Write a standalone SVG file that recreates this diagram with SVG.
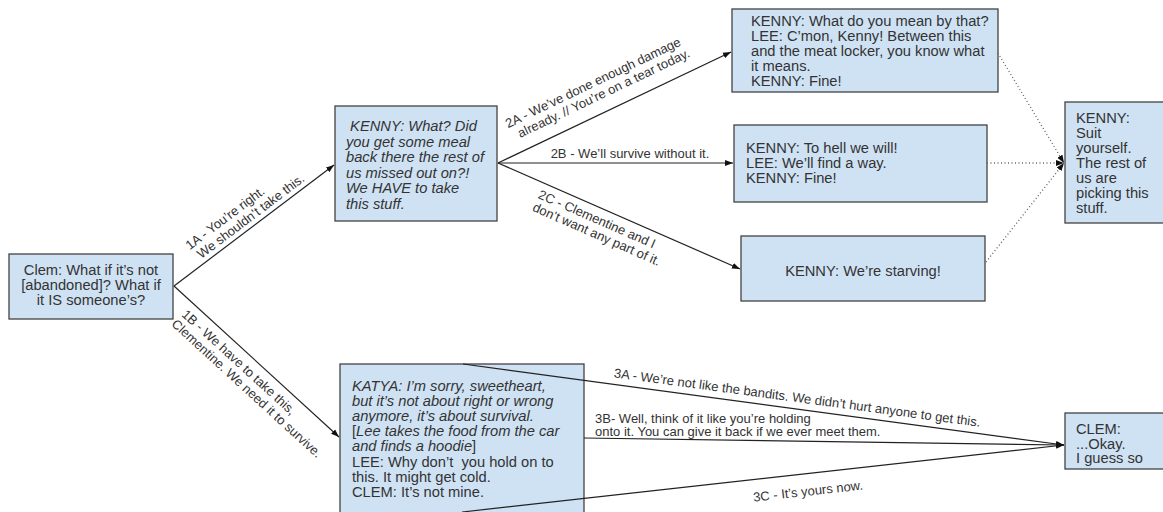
<svg xmlns="http://www.w3.org/2000/svg" width="1163" height="512" viewBox="0 0 1163 512">
<style>
.box{fill:#cfe2f3;stroke:#434343;stroke-width:1.3}
.t{font-family:"Liberation Sans",Arial,sans-serif;font-size:14.7px;fill:#333}
.l{font-family:"Liberation Sans",Arial,sans-serif;font-size:13px;fill:#333}
.i{font-style:italic}
.c{stroke:#222;stroke-width:1.2;fill:none;marker-end:url(#ah)}
.d{stroke:#666;stroke-width:1.3;fill:none;stroke-dasharray:1 2.5;marker-end:url(#ah)}
</style>
<defs>
<marker id="ah" markerUnits="userSpaceOnUse" markerWidth="9" markerHeight="7" refX="8" refY="3.5" orient="auto"><path d="M0,0.5 L8,3.5 L0,6.5 z" fill="#111"/></marker>
</defs>
<rect width="1163" height="512" fill="#fff"/>

<g id="node-clem-start">
<rect class="box" x="9" y="254" width="164" height="65"/>
<text class="t" text-anchor="middle"><tspan x="91" y="275">Clem: What if it’s not</tspan><tspan x="91" y="290">[abandoned]? What if</tspan><tspan x="91" y="305">it IS someone’s?</tspan></text>
</g>

<g id="node-kenny-what">
<rect class="box" x="335" y="106" width="162" height="115"/>
<text class="t i" xml:space="preserve"><tspan x="346" y="131"> KENNY: What? Did</tspan><tspan x="346" y="146.5">you get some meal</tspan><tspan x="346" y="162">back there the rest of</tspan><tspan x="346" y="177.5">us missed out on?!</tspan><tspan x="346" y="193">We HAVE to take</tspan><tspan x="346" y="208.5">this stuff.</tspan></text>
</g>

<g id="node-kenny-mean">
<rect class="box" x="732" y="9" width="266" height="83"/>
<text class="t"><tspan x="751" y="26">KENNY: What do you mean by that?</tspan><tspan x="751" y="41">LEE: C’mon, Kenny! Between this</tspan><tspan x="751" y="56">and the meat locker, you know what</tspan><tspan x="751" y="71">it means.</tspan><tspan x="751" y="86">KENNY: Fine!</tspan></text>
</g>

<g id="node-kenny-hell">
<rect class="box" x="734" y="125" width="253" height="77"/>
<text class="t"><tspan x="746" y="153">KENNY: To hell we will!</tspan><tspan x="746" y="168">LEE: We’ll find a way.</tspan><tspan x="746" y="183">KENNY: Fine!</tspan></text>
</g>

<g id="node-kenny-starving">
<rect class="box" x="741" y="236" width="244" height="65"/>
<text class="t" x="863" y="276" text-anchor="middle">KENNY: We’re starving!</text>
</g>

<g id="node-kenny-suit">
<rect class="box" x="1065" y="102" width="102" height="121"/>
<text class="t"><tspan x="1076" y="123">KENNY:</tspan><tspan x="1076" y="138">Suit</tspan><tspan x="1076" y="153">yourself.</tspan><tspan x="1076" y="168">The rest of</tspan><tspan x="1076" y="183">us are</tspan><tspan x="1076" y="198">picking this</tspan><tspan x="1076" y="213">stuff.</tspan></text>
</g>

<g id="node-katya">
<rect class="box" x="340" y="364" width="244" height="150"/>
<text class="t" xml:space="preserve"><tspan x="352" y="391" class="i">KATYA: I’m sorry, sweetheart,</tspan><tspan x="352" y="406" class="i">but it’s not about right or wrong</tspan><tspan x="352" y="421" class="i">anymore, it’s about survival.</tspan><tspan x="352" y="436">[<tspan class="i">Lee takes the food from the car</tspan></tspan><tspan x="352" y="451"><tspan class="i">and finds a hoodie</tspan>]</tspan><tspan x="352" y="467">LEE: Why don’t  you hold on to</tspan><tspan x="352" y="482">this. It might get cold.</tspan><tspan x="352" y="497">CLEM: It’s not mine.</tspan></text>
</g>

<g id="node-clem-okay">
<rect class="box" x="1065" y="413" width="102" height="56"/>
<text class="t"><tspan x="1076" y="434">CLEM:</tspan><tspan x="1076" y="448.5">...Okay.</tspan><tspan x="1076" y="463">I guess so</tspan></text>
</g>

<g id="connectors">
<path class="c" d="M174,286 L334,165"/>
<path class="c" d="M174,286 L339,437"/>
<path class="c" d="M498,163 L731,52"/>
<path class="c" d="M498,163 L733,163"/>
<path class="c" d="M498,163 L740,269"/>
<path class="d" d="M998,53 L1064,163"/>
<path class="d" d="M987,163 L1064,163"/>
<path class="d" d="M986,262 L1064,163"/>
<path class="c" d="M463,364 L1064,445"/>
<path class="c" d="M584,438 L1064,445"/>
<path class="c" d="M462,512 L1064,445"/>

<g transform="translate(174,286) rotate(-37.1)">
<text class="l" x="34" y="-19">1A - You’re right.</text>
<text class="l" x="38" y="-5">We shouldn’t take this.</text>
</g>
<g transform="translate(174,286) rotate(42.4)">
<text class="l" x="25" y="17">1B - We have to take this,</text>
<text class="l" x="24" y="31">Clementine. We need it to survive.</text>
</g>
<g transform="translate(498,163) rotate(-25.6)">
<text class="l" x="24" y="-27">2A - We’ve done enough damage</text>
<text class="l" x="31" y="-13">already. // You’re on a tear today.</text>
</g>
<text class="l" x="630" y="158" text-anchor="middle">2B - We’ll survive without it.</text>
<g transform="translate(498,163) rotate(23.7)">
<text class="l" x="50" y="16">2C - Clementine and I</text>
<text class="l" x="50" y="30">don’t want any part of it.</text>
</g>
<g transform="translate(463,364) rotate(7.7)">
<text class="l" x="151" y="-7">3A - We’re not like the bandits. We didn’t hurt anyone to get this.</text>
</g>
<text class="l"><tspan x="595" y="423">3B- Well, think of it like you’re holding</tspan><tspan x="595" y="436">onto it. You can give it back if we ever meet them.</tspan></text>
<g transform="translate(462,512) rotate(-6.35)">
<text class="l" x="291" y="22">3C - It’s yours now.</text>
</g>
</g>
</svg>
